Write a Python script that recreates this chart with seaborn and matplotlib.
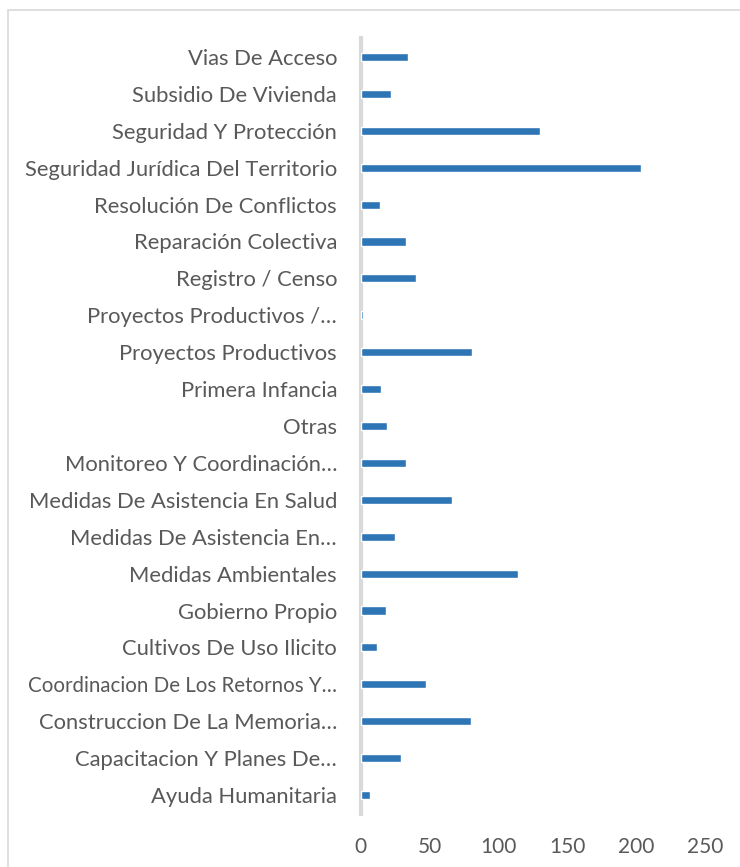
import matplotlib.pyplot as plt
import matplotlib.patches as patches
import seaborn as sns
import pandas as pd

# Categories (top to bottom as shown)
categories = [
    'Vias De Acceso',
    'Subsidio De Vivienda',
    'Seguridad Y Protección',
    'Seguridad Jurídica Del Territorio',
    'Resolución De Conflictos',
    'Reparación Colectiva',
    'Registro / Censo',
    'Proyectos Productivos /…',
    'Proyectos Productivos',
    'Primera Infancia',
    'Otras',
    'Monitoreo Y Coordinación…',
    'Medidas De Asistencia En Salud',
    'Medidas De Asistencia En…',
    'Medidas Ambientales',
    'Gobierno Propio',
    'Cultivos De Uso Ilicito',
    'Coordinacion De Los Retornos Y…',
    'Construccion De La Memoria…',
    'Capacitacion Y Planes De…',
    'Ayuda Humanitaria',
]
values = [34, 22, 130, 203, 14, 33, 40, 1.5, 81, 15, 19, 33, 66, 25, 114, 18, 12, 47, 80, 29, 7]
x_ticks = [0, 50, 100, 150, 200, 250]

df = pd.DataFrame({'cat': categories, 'val': values})

sns.set_style('white')
plt.rcParams['font.family'] = ['Lato', 'DejaVu Sans']

text_color = '#595959'
bar_color = '#2E75B6'

fig = plt.figure(figsize=(7.4, 8.67), dpi=100)
ax = fig.add_axes([0.4874, 0.0617, 0.4662, 0.8939])

sns.barplot(data=df, x='val', y='cat', order=categories, color=bar_color,
            width=0.22, saturation=1, ax=ax, zorder=3)

ax.set_xlim(0, 250)
ax.set_ylim(20.5, -0.5)
ax.set_xticks(x_ticks)
ax.set_xticklabels([str(t) for t in x_ticks])
ax.set_xlabel('')
ax.set_ylabel('')
ax.tick_params(axis='y', length=0, labelsize=15.8, colors=text_color, pad=17)
ax.tick_params(axis='x', length=0, labelsize=15, colors=text_color, pad=17)

# long truncated label is wider in Lato than in the original font
for lbl in ax.get_yticklabels():
    if lbl.get_text().startswith('Coordinacion De Los'):
        lbl.set_fontsize(14.8)

for s in ['top', 'right', 'bottom']:
    ax.spines[s].set_visible(False)
ax.spines['left'].set_color('#d9d9d9')
ax.spines['left'].set_linewidth(3)
ax.spines['left'].set_zorder(1)

# chart border
border = patches.Rectangle((8 / 740, -0.01), 1.0, 1 - 10 / 867 + 0.01,
                           transform=fig.transFigure, fill=False,
                           edgecolor='#d9d9d9', linewidth=1.2)
fig.patches.append(border)

fig.savefig('out.png', dpi=100)
